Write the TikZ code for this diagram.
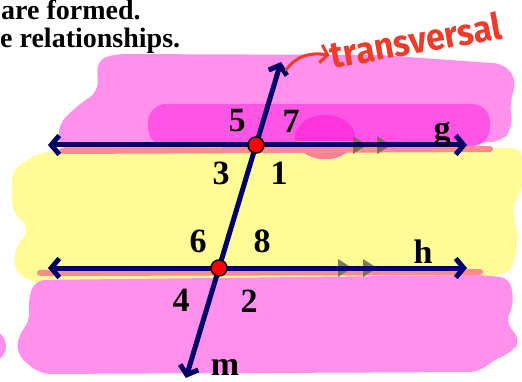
\documentclass[tikz,border=0pt]{standalone}
\usepackage{fontspec}
\setmainfont{Liberation Serif}
\newfontfamily\handfont{Fira Sans}
\usepackage{tikz}
\usetikzlibrary{arrows.meta,calc,positioning}
\definecolor{navyline}{HTML}{000066}
\definecolor{pinkhl}{HTML}{FF91EC}
\definecolor{magentahl}{HTML}{FF55E6}
\definecolor{hotpink}{HTML}{FF33DD}
\definecolor{yellowhl}{HTML}{FFFB96}
\definecolor{salmonhl}{HTML}{FF8C8C}
\definecolor{markgray}{HTML}{6E6E55}
\definecolor{inkred}{HTML}{EE3B2A}

\begin{document}
\begin{tikzpicture}[x=1pt,y=-1pt,
    hl/.style={rounded corners=10pt},
    barb/.tip={Straight Barb[length=8pt,width=19pt]},
    parline/.style={navyline,line width=5pt,barb-barb},
    dot/.style={circle,fill=red,draw=black,line width=1.5pt,minimum size=16pt,inner sep=0pt},
    lbl/.style={font=\fontsize{34}{38}\selectfont\bfseries,inner sep=0pt},
    head/.style={font=\fontsize{28}{32}\selectfont\bfseries,inner sep=0pt,anchor=base west},
    pmark/.style={fill=markgray,opacity=0.9}]
  \useasboundingbox (0,0) rectangle (522,382);

  \fill[yellowhl,hl] (40,152) -- (300,150) -- (522,148) -- (522,195) -- (512,200) -- (518,240)
    -- (512,272) -- (480,278) -- (200,280) -- (40,285) -- (14,272) -- (15,248) -- (30,228)
    -- (12,212) -- (12,170) -- cycle;
  \fill[pinkhl,hl] (35,280) -- (480,275) -- (510,278) -- (514,305) -- (505,322) -- (521,340)
    -- (512,352) -- (490,362) -- (480,372) -- (40,374) -- (17,355) -- (18,335) -- (30,322)
    -- (28,300) -- cycle;
  \fill[pinkhl] (-10,346) circle (16);
  \fill[pinkhl,hl] (98,92) -- (97,60) -- (115,54) -- (380,55) -- (505,64) -- (517,82)
    -- (510,100) -- (512,130) -- (500,142) -- (60,150) -- (58,125) -- (78,105) -- cycle;
  \fill[magentahl,rounded corners=18pt] (148,104) rectangle (490,146);
  \fill[hotpink] (325,137) ellipse [x radius=30,y radius=22];
  \begin{scope}
    \clip (290,142) rectangle (360,165);
    \fill[salmonhl!85!hotpink] (325,137) ellipse [x radius=30,y radius=22];
  \end{scope}
  \draw[salmonhl,line width=6pt,line cap=round] (62,151) -- (490,149);
  \draw[salmonhl,line width=6pt,line cap=round] (40,273) -- (480,272);

  \node[head] (head1) at (1,20) {are formed.};
  \node[head] (head2) at (0,48) {e relationships.};

  \coordinate (gL) at (48,145);
  \coordinate (gR) at (467,145);
  \coordinate (hL) at (48,268);
  \coordinate (hR) at (467,268);
  \coordinate (P) at (256,145);
  \coordinate (Q) at (219,268);
  \coordinate (mT) at ($(Q)!1.675!(P)$);
  \coordinate (mB) at ($(P)!1.894!(Q)$);

  \foreach \mx in {353,377} \fill[pmark] (\mx,136) -- (\mx+14,145) -- (\mx,154) -- cycle;
  \foreach \mx in {338,363} \fill[pmark] (\mx,259) -- (\mx+14,268) -- (\mx,277) -- cycle;

  \draw[parline] (gL) -- (gR);
  \draw[parline] (hL) -- (hR);
  \draw[parline] (mB) -- (mT);
  \node[dot] (Pdot) at (P) {};
  \node[dot] (Qdot) at (Q) {};

  \node[lbl] (a5) at (237,121) {5};
  \node[lbl] (a7) at (291,121) {7};
  \node[lbl] (a3) at (221,173) {3};
  \node[lbl] (a1) at (279,173) {1};
  \node[lbl] (a6) at (198,241) {6};
  \node[lbl] (a8) at (262,241) {8};
  \node[lbl] (a4) at (181,300) {4};
  \node[lbl] (a2) at (249,301) {2};
  \node[lbl,anchor=base] (lg) at (442,140) {g};
  \node[lbl,anchor=base] (lh) at (423,263) {h};
  \node[lbl,anchor=base] (lm) at (225,375) {m};

  \node[rotate=10,xscale=0.92,inner sep=1pt,text=inkred,
    font=\handfont\fontsize{37}{40}\selectfont\bfseries] (tword) at (416,40) {transversal};
  \coordinate (tstart) at (286,70);
  \draw[inkred,line width=3pt,line cap=round,-{Straight Barb[length=7pt,width=18pt]}]
    (tstart) .. controls (296,56) and (310,52) .. (tword.west);
\end{tikzpicture}
\end{document}
